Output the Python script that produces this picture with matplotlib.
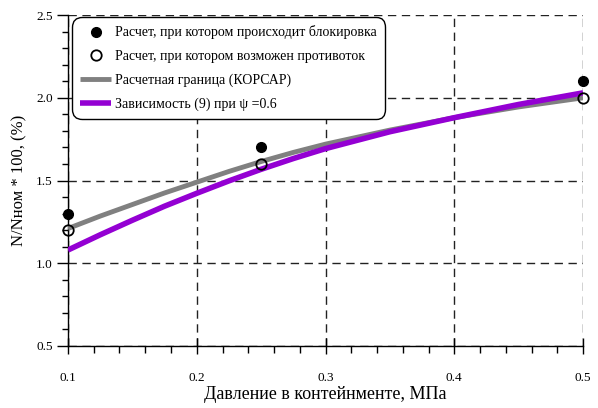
import matplotlib
matplotlib.use("Agg")
import matplotlib.pyplot as plt
from matplotlib.ticker import MultipleLocator

plt.rcParams['font.family'] = ['Liberation Serif', 'DejaVu Serif']

# Data
p_points = [0.1, 0.25, 0.5]
block_vals = [1.3, 1.7, 2.1]
counter_vals = [1.2, 1.6, 2.0]

p_curve = [0.1, 0.125, 0.15, 0.175, 0.2, 0.225, 0.25, 0.275, 0.3, 0.35, 0.4, 0.45, 0.5]
korsar_vals = [1.21, 1.285, 1.355, 1.425, 1.49, 1.555, 1.615, 1.67, 1.72, 1.805, 1.88, 1.945, 2.00]
dep9_vals = [1.08, 1.172, 1.26, 1.345, 1.423, 1.498, 1.568, 1.633, 1.693, 1.795, 1.88, 1.96, 2.03]

labels = ["Расчет, при котором происходит блокировка",
          "Расчет, при котором возможен противоток",
          "Расчетная граница (КОРСАР)",
          "Зависимость (9) при \u03c8 =0.6"]

fig = plt.figure(figsize=(5.98, 4.08), dpi=100)
ax = fig.add_axes([0.1137, 0.152, 0.975 - 0.1137, 0.963 - 0.152])

ax.plot(p_curve, korsar_vals, color='#808080', lw=3.5, label=labels[2], zorder=3, solid_capstyle='butt')
ax.plot(p_curve, dep9_vals, color='#9400D3', lw=4, label=labels[3], zorder=4, solid_capstyle='butt')
ax.plot(p_points, block_vals, 'o', color='black', ms=7, label=labels[0], zorder=5, clip_on=False)
ax.plot(p_points, counter_vals, 'o', mfc='none', mec='black', mew=1.3, ms=7.5, label=labels[1], zorder=5, clip_on=False)

ax.set_xlim(0.1, 0.5)
ax.set_ylim(0.5, 2.5)
ax.xaxis.set_major_locator(MultipleLocator(0.1))
ax.xaxis.set_minor_locator(MultipleLocator(0.02))
ax.yaxis.set_major_locator(MultipleLocator(0.5))
ax.yaxis.set_minor_locator(MultipleLocator(0.1))
ax.xaxis.set_major_formatter(matplotlib.ticker.FormatStrFormatter('%.1f'))
ax.yaxis.set_major_formatter(matplotlib.ticker.FormatStrFormatter('%.1f'))

for s in ['top', 'right']:
    ax.spines[s].set_visible(False)
ax.spines['left'].set_linewidth(1)
ax.spines['bottom'].set_linewidth(1)

ax.tick_params(axis='x', which='major', direction='inout', length=12, width=1, labelsize=9.5, pad=13)
ax.tick_params(axis='x', which='minor', direction='out', length=5, width=1)
ax.tick_params(axis='y', which='major', direction='out', length=8, width=1, labelsize=9.5, pad=3)
ax.tick_params(axis='y', which='minor', direction='out', length=4, width=1)

ax.grid(True, which='major', color='#222222', linestyle=(0, (6, 4)), linewidth=1)
ax.set_axisbelow(True)

ax.set_xlabel("Давление в контейнменте, МПа", fontsize=13, labelpad=1)
ax.set_ylabel("N/Nном * 100, (%)", fontsize=12, labelpad=6)

handles, labs = ax.get_legend_handles_labels()
order = [2, 3, 0, 1]
leg = ax.legend([handles[i] for i in order], [labs[i] for i in order],
                loc='upper left', bbox_to_anchor=(0.008, 0.994), borderaxespad=0,
                fontsize=10, frameon=True, fancybox=True, edgecolor='black', framealpha=1,
                handlelength=2.2, handletextpad=0.3, borderpad=0.6, labelspacing=0.75)
leg.get_frame().set_linewidth(1)
leg.get_frame().set_boxstyle('round,pad=0,rounding_size=0.7')

fig.savefig("out.png", dpi=100)
